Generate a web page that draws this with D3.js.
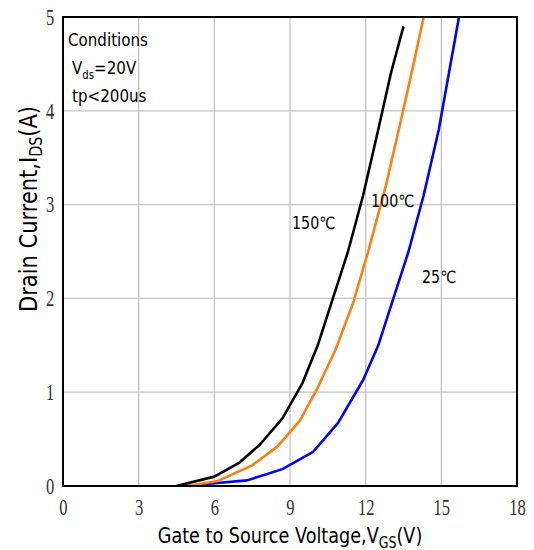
<!DOCTYPE html>
<html lang="en">
<head>
<meta charset="utf-8">
<title>Transfer characteristics</title>
<script src="https://cdn.jsdelivr.net/npm/d3@7"></script>
<style>
  body { margin: 0; background: #fff; }
  .tick text { font-family: "Liberation Serif", serif; font-size: 23px; fill: #333; }
  .lbl { font-family: "DejaVu Sans", sans-serif; fill: #000; }
</style>
</head>
<body>
<script>
// data: Vgs (V) vs Ids (A)
var vgs150 = [4.5, 6.0, 7.0, 7.8, 8.7, 9.5, 10.1, 10.7, 11.3, 11.9, 12.5, 13.0, 13.5];
var ids150 = [0, 0.1, 0.25, 0.44, 0.72, 1.1, 1.5, 2.0, 2.5, 3.1, 3.8, 4.4, 4.9];
var vgs100 = [4.9, 6.1, 7.5, 8.5, 9.4, 10.1, 10.8, 11.5, 12.1, 12.8, 13.4, 13.9, 14.3];
var ids100 = [0, 0.05, 0.22, 0.42, 0.7, 1.05, 1.45, 1.95, 2.5, 3.2, 3.9, 4.5, 5.0];
var vgs25 = [5.0, 6.0, 7.3, 8.7, 9.9, 10.9, 11.9, 12.5, 13.1, 13.7, 14.3, 14.9, 15.7];
var ids25 = [0, 0.03, 0.06, 0.18, 0.36, 0.67, 1.13, 1.5, 2.0, 2.5, 3.1, 3.8, 5.0];
var xTicks = [0, 3, 6, 9, 12, 15, 18];
var yTicks = [0, 1, 2, 3, 4, 5];

var w = 534, h = 550;
var padL = 63, padR = 517, padT = 17, padB = 486;
var narrow = 0.84; // squeeze for the condensed look of the original fonts

var svg = d3.select("body").append("svg").attr("width", w).attr("height", h);

var x = d3.scaleLinear().domain([0, 18]).range([padL, padR]);
var y = d3.scaleLinear().domain([0, 5]).range([padB, padT]);

// grid
svg.append("g").selectAll("line").data(xTicks.slice(1, -1)).enter().append("line")
  .attr("x1", function(d){ return x(d); }).attr("x2", function(d){ return x(d); })
  .attr("y1", padT).attr("y2", padB)
  .attr("stroke", "#c4c4c4").attr("stroke-width", 1.3);
svg.append("g").selectAll("line").data(yTicks.slice(1, -1)).enter().append("line")
  .attr("y1", function(d){ return y(d); }).attr("y2", function(d){ return y(d); })
  .attr("x1", padL).attr("x2", padR)
  .attr("stroke", "#c4c4c4").attr("stroke-width", 1.3);

// axes (labels only, frame drawn below)
var xAxis = svg.append("g").attr("transform", "translate(0," + padB + ")")
  .call(d3.axisBottom(x).tickValues(xTicks).tickSize(0).tickPadding(13).tickFormat(d3.format("d")));
var yAxis = svg.append("g").attr("transform", "translate(" + padL + ",0)")
  .call(d3.axisLeft(y).tickValues(yTicks).tickSize(0).tickPadding(12).tickFormat(d3.format("d")));
xAxis.select(".domain").remove();
yAxis.select(".domain").remove();
xAxis.selectAll(".tick text").attr("transform", "scale(0.72,1)");
yAxis.selectAll(".tick text").attr("transform", "scale(0.72,1)");

// curves
var line = d3.line().x(function(d){ return x(d[0]); }).y(function(d){ return y(d[1]); });
var series = [
  { v: vgs25, i: ids25, c: "#0000ff" },
  { v: vgs100, i: ids100, c: "#ff7f0e" },
  { v: vgs150, i: ids150, c: "#000000" }
];
series.forEach(function(s){
  var pts = d3.zip(s.v, s.i);
  svg.append("path").datum(pts).attr("d", line)
    .attr("fill", "none").attr("stroke", s.c).attr("stroke-width", 2.6)
    .attr("stroke-linejoin", "round");
});

// frame
svg.append("rect").attr("x", padL).attr("y", padT)
  .attr("width", padR - padL).attr("height", padB - padT)
  .attr("fill", "none").attr("stroke", "#000").attr("stroke-width", 2);

function label(px, py, size, str){
  return svg.append("text").attr("class", "lbl")
    .attr("transform", "translate(" + px + "," + py + ") scale(" + narrow + ",1)")
    .attr("font-size", size).text(str);
}

// curve labels
label(292, 229, 17, "150℃");
label(371, 207, 17, "100℃");
label(422, 283, 17, "25℃");

// conditions
label(68, 46, 18, "Conditions");
var vds = label(72, 74, 18, "");
vds.append("tspan").text("V");
vds.append("tspan").attr("dy", 5).attr("font-size", 12).text("ds");
vds.append("tspan").attr("dy", -5).text("=20V");
label(72, 102, 18, "tp<200us");

// axis titles
var xt = svg.append("text").attr("class", "lbl")
  .attr("transform", "translate(290,543) scale(" + narrow + ",1)")
  .attr("text-anchor", "middle").attr("font-size", 21);
xt.append("tspan").text("Gate to Source Voltage,V");
xt.append("tspan").attr("dy", 5).attr("font-size", 15).text("GS");
xt.append("tspan").attr("dy", -5).text("(V)");

var yt = svg.append("text").attr("class", "lbl")
  .attr("transform", "translate(37,209) rotate(-90) scale(" + narrow + ",1)")
  .attr("text-anchor", "middle").attr("font-size", 25);
yt.append("tspan").text("Drain Current,I");
yt.append("tspan").attr("dy", 5).attr("font-size", 17).text("DS");
yt.append("tspan").attr("dy", -5).text("(A)");
</script>
</body>
</html>
